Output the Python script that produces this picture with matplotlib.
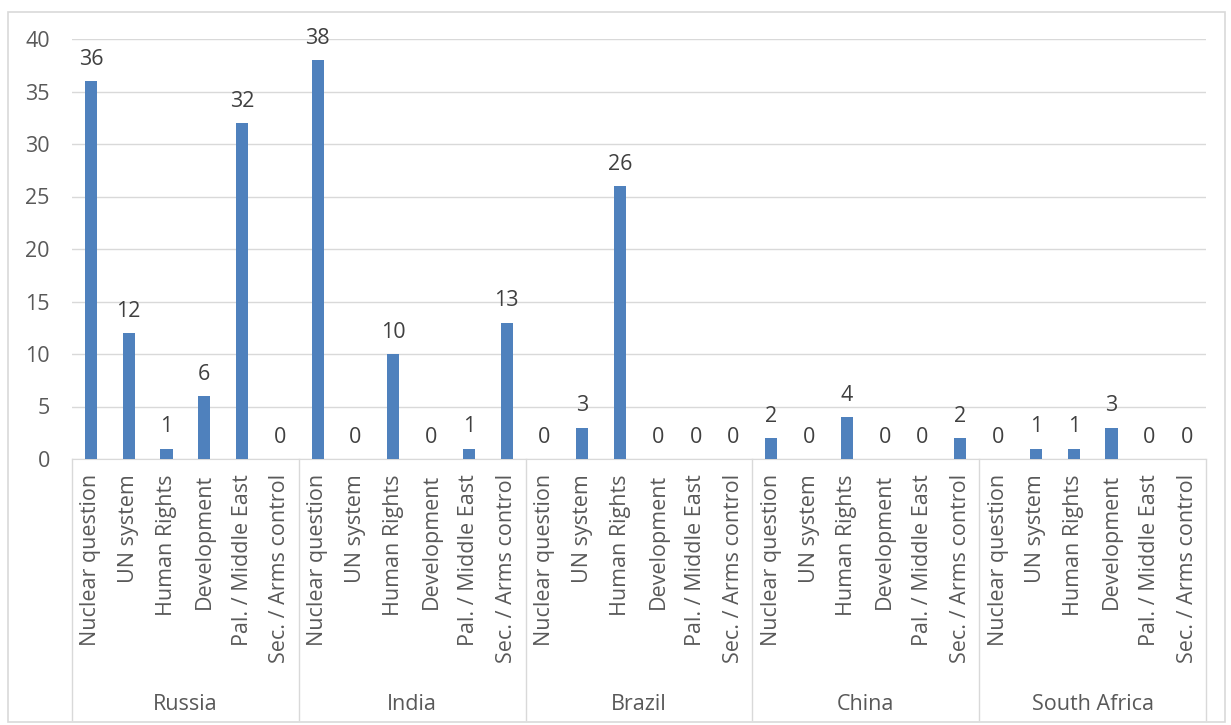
import matplotlib.pyplot as plt
from matplotlib.patches import Rectangle
from matplotlib.lines import Line2D

# countries (outer category) and topics (inner category)
countries = ["Russia", "India", "Brazil", "China", "South Africa"]
topics = ["Nuclear question", "UN system", "Human Rights", "Development",
          "Pal. / Middle East", "Sec. / Arms control"]

russia = [36, 12, 1, 6, 32, 0]
india = [38, 0, 10, 0, 1, 13]
brazil = [0, 3, 26, 0, 0, 0]
china = [2, 0, 4, 0, 0, 2]
south_africa = [0, 1, 1, 3, 0, 0]

values = russia + india + brazil + china + south_africa
labels = topics * len(countries)

bar_color = "#4F81BD"
text_color = "#595959"
grid_color = "#D9D9D9"
fs = 15.5

plt.rcParams['font.family'] = ['Open Sans', 'DejaVu Sans']

fig = plt.figure(figsize=(12.31, 7.25), dpi=100)

# outer chart border
fig.patches.append(Rectangle((8 / 1231, 3 / 725), 1217 / 1231, 710 / 725,
                             transform=fig.transFigure, fill=False,
                             edgecolor=grid_color, linewidth=1.2))

ax = fig.add_axes([72 / 1231, 266 / 725, 1134 / 1231, 420 / 725])

x = list(range(len(values)))
bars = ax.bar(x, values, width=0.32, color=bar_color, zorder=3)
ax.bar_label(bars, labels=[str(v) for v in values], padding=8,
             fontsize=fs, color="#404040")

ax.set_xlim(-0.5, len(values) - 0.5)
ax.set_ylim(0, 40)
ax.set_yticks(range(0, 41, 5))
ax.tick_params(axis='y', length=0, labelsize=fs, labelcolor=text_color, pad=16)
ax.yaxis.grid(True, color=grid_color, linewidth=1)
ax.set_axisbelow(True)

ax.set_xticks(x)
ax.set_xticklabels(labels, rotation=90, fontsize=fs, color=text_color)
ax.tick_params(axis='x', length=0, pad=11)

for side in ["top", "right", "left"]:
    ax.spines[side].set_visible(False)
ax.spines["bottom"].set_color(grid_color)

# group separators and country labels below the axis
trans = ax.get_xaxis_transform()
n = len(topics)
for i in range(len(countries) + 1):
    xb = i * n - 0.5
    ax.add_line(Line2D([xb, xb], [0, -261 / 420], transform=trans,
                       color=grid_color, linewidth=1, clip_on=False))
for i, c in enumerate(countries):
    ax.text(i * n + (n - 1) / 2, -245 / 420, c, transform=trans,
            ha="center", va="center", fontsize=fs, color=text_color)

fig.savefig("out.png", dpi=100)
